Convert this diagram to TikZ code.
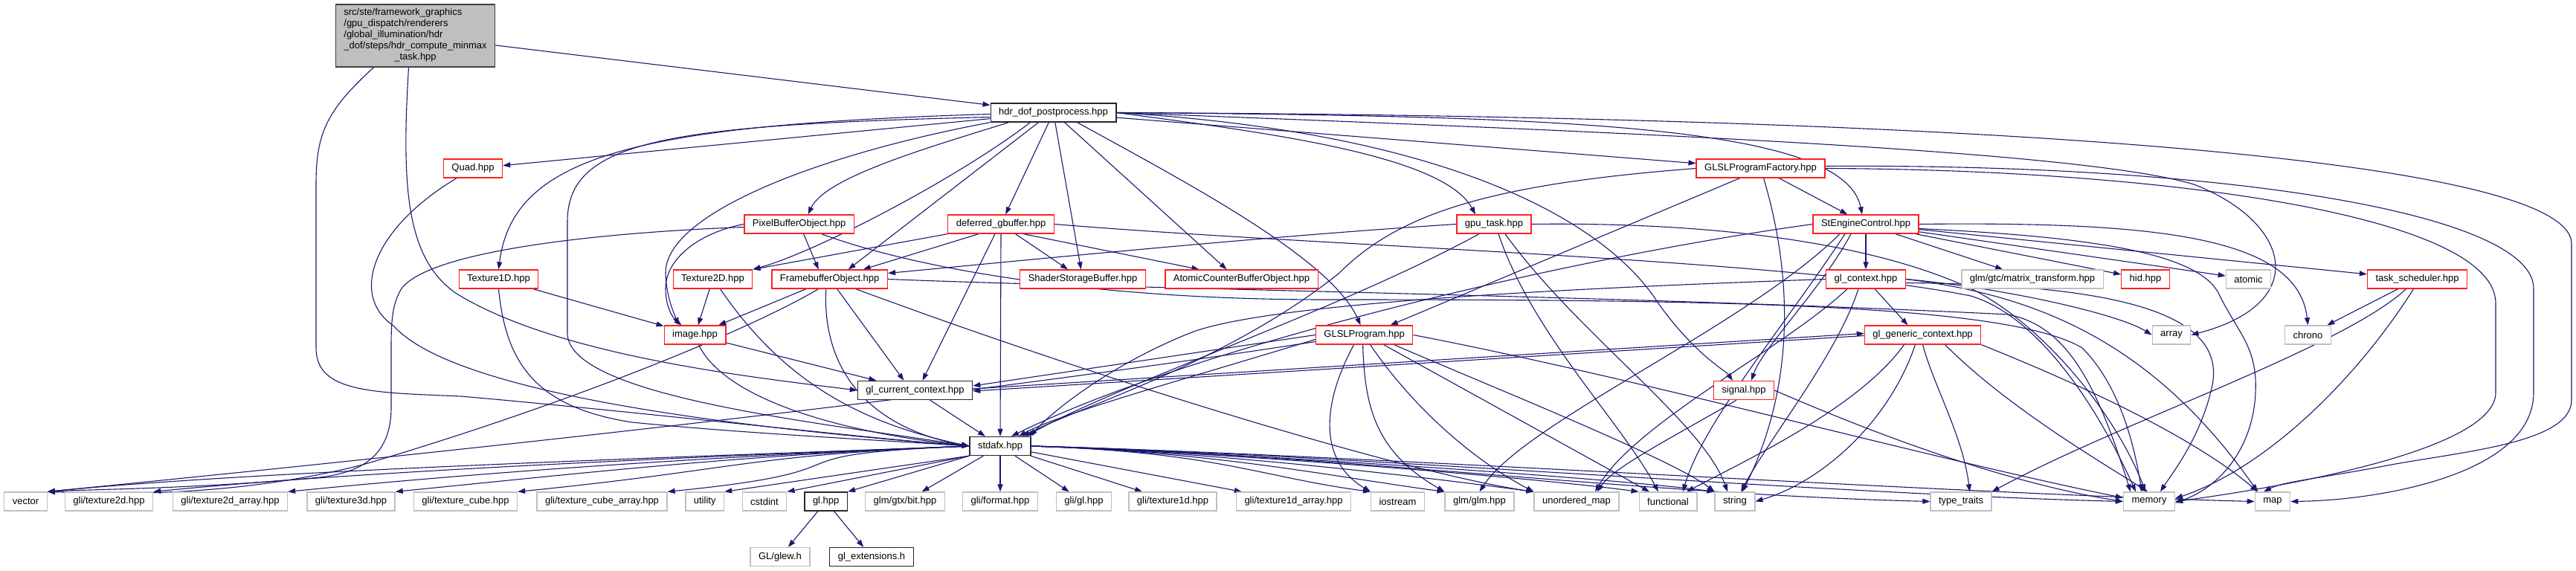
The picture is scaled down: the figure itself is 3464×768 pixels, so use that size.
\documentclass[tikz,border=0pt]{standalone}
\usepackage{fontspec}
\setmainfont{Liberation Sans}
\usetikzlibrary{arrows.meta,backgrounds}
\definecolor{LinkBlue}{RGB}{25,25,112}
\definecolor{BoxRed}{RGB}{255,30,30}
\definecolor{BoxGrey}{RGB}{191,191,191}
\definecolor{RootGrey}{RGB}{191,191,191}
\tikzset{
  file/.style={rectangle, fill=white, minimum height=25pt, inner xsep=11pt, inner ysep=2pt,
    line width=1.3pt, font=\fontsize{13}{15}\selectfont},
  redfile/.style={file, draw=BoxRed},
  sysfile/.style={file, draw=BoxGrey},
  docfile/.style={file, draw=black!85},
  rootfile/.style={file, draw=black!75, fill=RootGrey, inner ysep=4.5pt},
  dep/.style={-{Triangle[length=10pt,width=7pt]}, draw=LinkBlue, line width=1.1pt},
}
\begin{document}
\begin{tikzpicture}[x=1pt, y=1pt]
\useasboundingbox (0,0) rectangle (3464,768);

% files
\node[rootfile] (root) at (558.5,720) {\begin{tabular}{@{}l@{}}src/ste/framework\_graphics\\/gpu\_dispatch/renderers\\/global\_illumination/hdr\\\_dof/steps/hdr\_compute\_minmax\\\multicolumn{1}{@{}c@{}}{\_task.hpp}\end{tabular}};
\node[docfile] (hdr) at (1416.5,616.5) {hdr\_dof\_postprocess.hpp};
\node[redfile] (quad) at (636,541.5) {Quad.hpp};
\node[redfile] (glslfac) at (2367.5,541.5) {GLSLProgramFactory.hpp};
\node[redfile] (pbo) at (1074.6,466.5) {PixelBufferObject.hpp};
\node[redfile] (gbuf) at (1346,466.5) {deferred\_gbuffer.hpp};
\node[redfile] (gputask) at (2009,466.5) {gpu\_task.hpp};
\node[redfile] (engine) at (2509,466.5) {StEngineControl.hpp};
\node[redfile] (tex1d) at (670.5,392.5) {Texture1D.hpp};
\node[redfile] (tex2d) at (958.5,392.5) {Texture2D.hpp};
\node[redfile] (fbo) at (1115.7,392.5) {FramebufferObject.hpp};
\node[redfile] (ssbo) at (1456,392.5) {ShaderStorageBuffer.hpp};
\node[redfile] (acbo) at (1669.5,392.5) {AtomicCounterBufferObject.hpp};
\node[redfile] (glctx) at (2509,392.5) {gl\_context.hpp};
\node[sysfile] (gtcmat) at (2733,392.5) {glm/gtc/matrix\_transform.hpp};
\node[redfile] (hid) at (2885,392.5) {hid.hpp};
\node[sysfile] (atomic) at (3023.5,392.5) {atomic};
\node[redfile] (sched) at (3250.5,392.5) {task\_scheduler.hpp};
\node[redfile] (image) at (934.5,317.5) {image.hpp};
\node[redfile] (glsl) at (1834.6,317.5) {GLSLProgram.hpp};
\node[redfile] (genctx) at (2585.5,317.5) {gl\_generic\_context.hpp};
\node[sysfile] (array) at (2920,317.5) {array};
\node[sysfile] (chrono) at (3103.5,317.5) {chrono};
\node[docfile] (curctx) at (1230.5,243) {gl\_current\_context.hpp};
\node[redfile] (signal) at (2345,243) {signal.hpp};
\node[docfile] (stdafx) at (1345,168) {stdafx.hpp};
\foreach \n/\x/\t in {vector/34.5/vector, gli2d/146.5/{gli/texture2d.hpp},
    gli2darr/309.5/{gli/texture2d\_array.hpp}, gli3d/472/{gli/texture3d.hpp},
    glicube/626/{gli/texture\_cube.hpp}, glicubearr/809.5/{gli/texture\_cube\_array.hpp},
    utility/947.7/utility, cstdint/1028/cstdint, gtxbit/1217/{glm/gtx/bit.hpp},
    gliformat/1345/{gli/format.hpp}, gligl/1457.5/{gli/gl.hpp}, gli1d/1577/{gli/texture1d.hpp},
    gli1darr/1739.5/{gli/texture1d\_array.hpp}, iostream/1879.5/iostream, glmglm/1989.5/{glm/glm.hpp},
    umap/2120/unordered\_map, functional/2243/functional, string/2333/string,
    typetraits/2637/type\_traits, memory/2890/memory, map/3056/map}
  \node[sysfile] (\n) at (\x,93.5) {\t};
\node[docfile] (glhpp) at (1110.7,93.5) {gl.hpp};
\node[sysfile] (glew) at (1049,19) {GL/glew.h};
\node[docfile] (glext) at (1172,19) {gl\_extensions.h};

\begin{scope}[on background layer]
\fill[white] (0,0) rectangle (3464,768);
% top file
\draw[dep] (root) -- (hdr);
\draw[dep] ([xshift=-56pt]root.south) .. controls (440,620) and (425,590) .. (425,520) -- (425,300)
  .. controls (425,240) and (500,240) .. (620,235) .. controls (850,215) and (1150,180) .. (stdafx.west);
\draw[dep] ([xshift=-9pt]root.south) .. controls (540,520) and (545,420) .. (614,373)
  .. controls (750,290) and (1000,262) .. (curctx.west);
% hdr_dof_postprocess
\draw[dep] (hdr) -- (quad);
\draw[dep] ([yshift=-2pt]hdr.west) .. controls (860,600) and (690,560) .. (tex1d.north);
\draw[dep] ([yshift=-6pt]hdr.west) .. controls (900,600) and (763,580) .. (763,470) -- (763,320)
  .. controls (763,235) and (1100,200) .. (stdafx.west);
\draw[dep] (hdr.south west) .. controls (1100,560) and (893,480) .. (895,400)
  .. controls (896,370) and (905,350) .. ([xshift=-22pt]image.north);
\draw[dep] ([xshift=-60pt]hdr.south) .. controls (1250,570) and (1110,530) .. ([xshift=12pt]pbo.north);
\draw[dep] ([xshift=-31pt]hdr.south) .. controls (1290,530) and (1100,430) .. (tex2d.north east);
\draw[dep] ([xshift=-20pt]hdr.south) -- ([xshift=25pt]fbo.north);
\draw[dep] (hdr) -- (gbuf);
\draw[dep] (hdr) -- (ssbo);
\draw[dep] ([xshift=15pt]hdr.south) -- ([xshift=-20pt]acbo.north);
\draw[dep] ([xshift=32pt]hdr.south) .. controls (1600,520) and (1790,420) .. ([xshift=-5pt]glsl.north);
\draw[dep] (hdr.east) .. controls (1700,590) and (1940,560) .. ([xshift=-25pt]gputask.north);
\draw[dep] (hdr) -- (glslfac);
\draw[dep] (hdr.east) .. controls (2100,612) and (2480,600) .. ([xshift=-5pt]engine.north);
\draw[dep] (hdr.east) .. controls (1950,590) and (2160,470) .. (2230,360)
  .. controls (2280,290) and (2320,270) .. ([xshift=-15pt]signal.north);
\draw[dep] (hdr.east) .. controls (2200,590) and (2800,565) .. (2950,520)
  .. controls (3080,470) and (3110,360) .. (array.east);
\draw[dep] (hdr.east) .. controls (2600,612) and (3458,560) .. (3458,440) -- (3458,230)
  .. controls (3458,170) and (3300,160) .. (3200,140) .. controls (3120,125) and (3070,120) .. ([xshift=-12pt]map.north);
% PixelBufferObject
\draw[dep] ([xshift=6pt]pbo.south) -- ([xshift=-15pt]fbo.north);
\draw[dep] (pbo.west) .. controls (940,455) and (895,420) .. (895,380)
  .. controls (895,355) and (905,340) .. ([xshift=-18pt]image.north);
\draw[dep] ([yshift=-4pt]pbo.west) .. controls (800,455) and (578,430) .. (540,380) .. controls (528,360) and (526,340) .. (526,300)
  -- (526,220) .. controls (526,150) and (480,130) .. (420,125) .. controls (250,110) and (120,110) .. (vector.north east);
\draw[dep] ([xshift=30pt]pbo.south) .. controls (1250,400) and (1500,365) .. (1780,365)
  .. controls (2300,365) and (2700,360) .. (2800,300) .. controls (2850,250) and (2870,170) .. ([xshift=-10pt]memory.north);
% deferred_gbuffer
\draw[dep] (gbuf.south west) -- (tex2d.north east);
\draw[dep] ([xshift=-30pt]gbuf.south) -- ([xshift=45pt]fbo.north);
\draw[dep] (gbuf) -- ([xshift=-20pt]ssbo.north);
\draw[dep] ([xshift=30pt]gbuf.south) -- ([xshift=-57pt]acbo.north);
\draw[dep] ([xshift=-8pt]gbuf.south) -- ([xshift=10pt]curctx.north);
\draw[dep] (gbuf.south) -- (stdafx.north);
\draw[dep] (gbuf.east) .. controls (1800,435) and (2400,420) .. (2650,370)
  .. controls (2750,340) and (2830,200) .. ([xshift=-18pt]memory.north);
% FramebufferObject
\draw[dep] (fbo) -- (image);
\draw[dep] ([xshift=10pt]fbo.south) -- ([xshift=-15pt]curctx.north);
\draw[dep] ([xshift=-5pt]fbo.south) .. controls (1105,260) and (1180,190) .. (stdafx.west);
\draw[dep] ([xshift=-15pt]fbo.south) .. controls (1000,320) and (750,220) .. (488,143)
  .. controls (300,95) and (120,105) .. (vector.north east);
\draw[dep] ([xshift=35pt]fbo.south) .. controls (1500,250) and (1900,130) .. (umap.north west);
\draw[dep] (fbo.east) .. controls (1500,380) and (2200,370) .. (2700,345)
  .. controls (2780,330) and (2820,250) .. ([xshift=-25pt]memory.north);
% textures, image, quad
\draw[dep] (tex2d) -- (image);
\draw[dep] ([xshift=10pt]tex2d.south) .. controls (1050,260) and (1150,200) .. (stdafx.west);
\draw[dep] (tex1d) -- (image);
\draw[dep] (tex1d.south) .. controls (680,280) and (720,220) .. (850,200) .. controls (1000,185) and (1200,175) .. (stdafx.west);
\draw[dep] (image) -- (curctx);
\draw[dep] ([xshift=5pt]image.south) .. controls (970,240) and (1100,190) .. (stdafx.west);
\draw[dep] ([xshift=-22pt]quad.south) .. controls (500,460) and (470,370) .. (529,330)
  .. controls (600,250) and (900,200) .. (stdafx.west);
% contexts
\draw[dep] (curctx) -- (stdafx);
\draw[dep] ([yshift=2pt]curctx.east) -- ([yshift=2pt]genctx.west);
\draw[dep] ([yshift=-1pt]genctx.west) -- ([yshift=-1pt]curctx.east);
\draw[dep] (glctx) -- ([xshift=-20pt]genctx.north);
\draw[dep] (glctx.west) .. controls (2100,380) and (1700,360) .. (1600,320)
  .. controls (1500,280) and (1420,220) .. ([xshift=40pt]stdafx.north);
\draw[dep] ([xshift=-25pt]glctx.south) .. controls (2400,300) and (2200,200) .. ([xshift=25pt]umap.north);
\draw[dep] ([xshift=-10pt]glctx.south) .. controls (2470,290) and (2380,180) .. ([xshift=8pt]string.north);
\draw[dep] (glctx.east) .. controls (2700,380) and (2850,345) .. (array.west);
\draw[dep] (glctx.east) .. controls (2750,370) and (2900,300) .. ([xshift=-20pt]map.north);
\draw[dep] ([yshift=-5pt]glctx.east) .. controls (2900,385) and (2990,330) .. (2975,250)
  .. controls (2960,180) and (2920,130) .. ([xshift=15pt]memory.north);
\draw[dep] ([xshift=-10pt]genctx.south) .. controls (2540,200) and (2450,120) .. (string.east);
\draw[dep] ([xshift=-25pt]genctx.south) .. controls (2500,220) and (2350,150) .. ([xshift=25pt]functional.north);
\draw[dep] (genctx.south) .. controls (2600,250) and (2640,180) .. ([xshift=-30pt]typetraits.north east);
\draw[dep] ([xshift=30pt]genctx.south) .. controls (2700,220) and (2820,150) .. ([xshift=-2pt]memory.north);
\draw[dep] (genctx.south east) .. controls (2800,250) and (2950,180) .. ([xshift=-20pt]map.north);
% signal, GLSLProgram
\draw[dep] ([xshift=-10pt]signal.south) .. controls (2250,180) and (2170,140) .. ([xshift=28pt]umap.north);
\draw[dep] (signal.east) .. controls (2600,150) and (2750,110) .. (memory.west);
\draw[dep] ([xshift=-14pt]glsl.south) .. controls (1780,230) and (1770,150) .. (iostream.north west);
\draw[dep] ([xshift=-2pt]glsl.south) .. controls (1835,220) and (1850,160) .. (glmglm.north west);
\draw[dep] ([xshift=8pt]glsl.south) .. controls (1900,220) and (1980,150) .. (umap.north west);
\draw[dep] ([xshift=26pt]glsl.south) -- ([xshift=-25pt]functional.north);
\draw[dep] ([xshift=40pt]glsl.south) .. controls (2000,250) and (2250,150) .. (string.north west);
\draw[dep] (glsl.east) .. controls (2200,260) and (2600,150) .. ([yshift=5pt]memory.west);
\draw[dep] (glsl.west) .. controls (1650,300) and (1450,270) .. ([yshift=6pt]curctx.east);
\draw[dep] ([yshift=-6pt]glsl.west) .. controls (1600,260) and (1420,210) .. ([xshift=25pt]stdafx.north);
\draw[dep] ([yshift=-9pt]glsl.west) .. controls (1200,220) and (400,140) .. (vector.north east);
% gpu_task
\draw[dep] (gputask.west) .. controls (1700,450) and (1400,420) .. ([yshift=8pt]fbo.east);
\draw[dep] ([xshift=-20pt]gputask.south) .. controls (1800,350) and (1500,250) .. ([xshift=35pt]stdafx.north);
\draw[dep] ([xshift=6pt]gputask.south) .. controls (2060,320) and (2180,200) .. ([xshift=-13pt]functional.north);
\draw[dep] ([xshift=15pt]gputask.south) .. controls (2120,320) and (2290,200) .. ([xshift=-10pt]string.north);
\draw[dep] (gputask.east) .. controls (2350,470) and (2550,430) .. (2660,375)
  .. controls (2760,320) and (2850,200) .. ([xshift=-5pt]memory.north);
% GLSLProgramFactory
\draw[dep] (glslfac) -- (engine);
\draw[dep] ([xshift=-28pt]glslfac.south) -- ([xshift=35pt]glsl.north);
\draw[dep] (glslfac.west) .. controls (2000,520) and (1880,480) .. (1800,400)
  .. controls (1650,280) and (1450,220) .. ([xshift=30pt]stdafx.north);
\draw[dep] ([xshift=4pt]glslfac.south) .. controls (2410,400) and (2415,250) .. ([xshift=10pt]string.north);
\draw[dep] (glslfac.east) .. controls (2900,540) and (3356,480) .. (3356,360) -- (3356,240)
  .. controls (3356,160) and (3050,110) .. (memory.east);
\draw[dep] ([yshift=3pt]glslfac.east) .. controls (3000,548) and (3407,480) .. (3407,380) -- (3407,240)
  .. controls (3407,130) and (3200,95) .. (map.east);
% StEngineControl
\draw[dep] (engine) -- (glctx);
\draw[dep] (engine) -- (gtcmat);
\draw[dep] (engine) -- (hid);
\draw[dep] (engine) -- (atomic);
\draw[dep] (engine) -- (sched);
\draw[dep] (engine.east) .. controls (2900,470) and (3090,450) .. (chrono.north);
\draw[dep] ([xshift=-20pt]engine.south) .. controls (2450,380) and (2370,300) .. ([xshift=10pt]signal.north);
\draw[dep] (engine.west) .. controls (2100,420) and (1600,300) .. ([xshift=15pt]stdafx.north);
\draw[dep] ([xshift=-35pt]engine.south) .. controls (2350,330) and (2050,200) .. (glmglm.north);
\draw[dep] ([xshift=-28pt]engine.south) .. controls (2400,330) and (2290,200) .. ([xshift=20pt]functional.north);
\draw[dep] ([yshift=-6pt]engine.east) .. controls (2800,450) and (2960,430) .. (2985,370)
  .. controls (3010,320) and (3036,300) .. (3033,240) .. controls (3030,170) and (2990,115) .. ([yshift=-2pt]memory.east);
% task_scheduler
\draw[dep] (sched) -- (chrono);
\draw[dep] ([xshift=-15pt]sched.south) .. controls (3150,300) and (2850,200) .. (typetraits.north east);
\draw[dep] ([xshift=-5pt]sched.south) .. controls (3170,260) and (3050,140) .. ([yshift=4pt]memory.east);
% stdafx
\foreach \n in {vector,gli2d,gli2darr,gli3d,glicube,glicubearr}
  \draw[dep] (stdafx.west) .. controls +(-300,-12) and +(300,30) .. (\n.north east);
\foreach \n in {utility,cstdint,glhpp}
  \draw[dep] (stdafx.south west) -- (\n.north east);
\foreach \n in {gtxbit,gliformat,gligl,gli1d,gli1darr}
  \draw[dep] (stdafx) -- (\n);
\foreach \n in {iostream,glmglm,umap,functional,string}
  \draw[dep] (stdafx.east) .. controls +(250,-8) and +(-150,20) .. (\n.north west);
\foreach \n in {typetraits,memory,map}
  \draw[dep] (stdafx.east) .. controls +(400,-10) and +(-400,10) .. (\n.west);
% gl.hpp
\draw[dep] (glhpp) -- (glew);
\draw[dep] (glhpp) -- (glext);
\end{scope}
\end{tikzpicture}
\end{document}
